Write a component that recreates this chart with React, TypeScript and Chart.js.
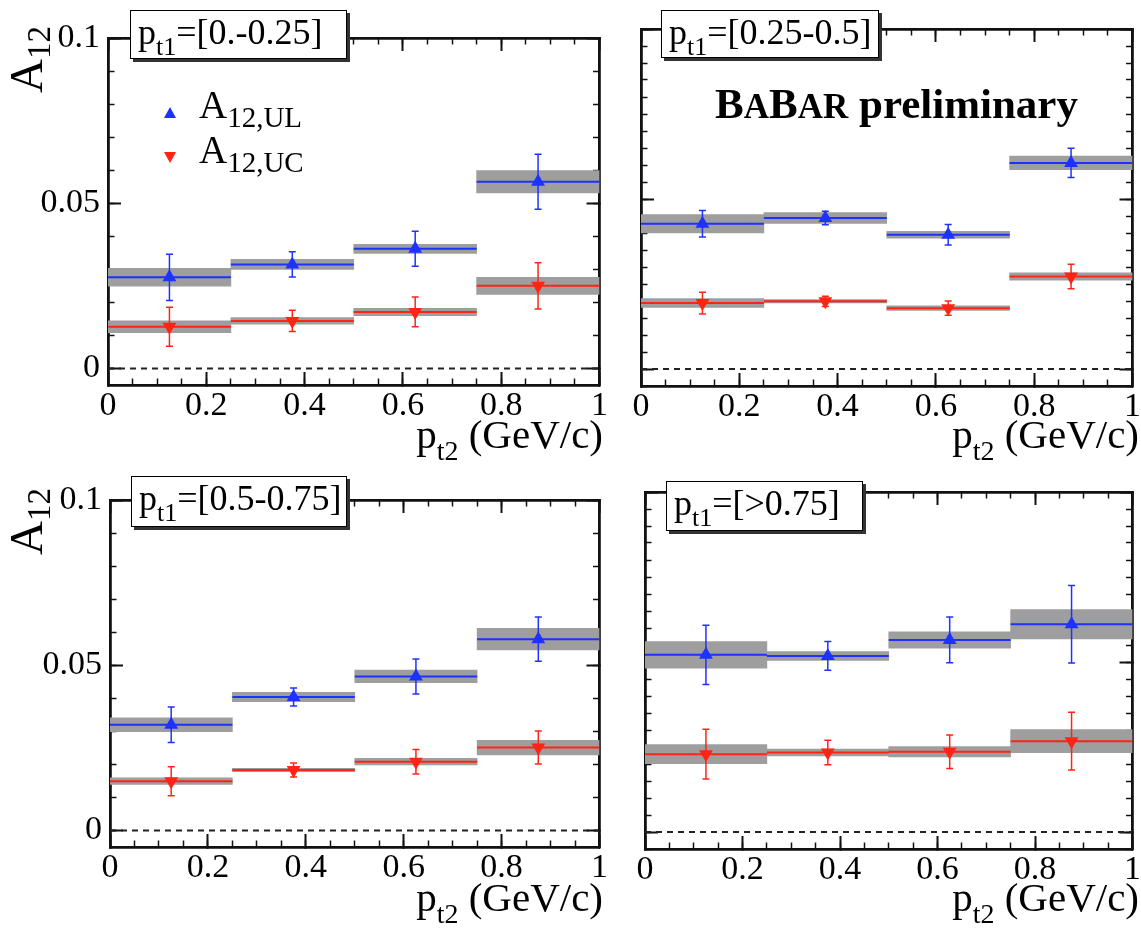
import React, { useEffect, useRef } from "react";
import Chart from "chart.js/auto";

const SERIF = "'Liberation Serif', 'Times New Roman', serif";
const BLUE = "#1e32ff";
const RED = "#ff2414";
const BAND = "#9e9e9e";
const FRAME = "#111111";

// ---- data ----
const binEdges = [0, 0.25, 0.5, 0.75, 1];
const binCenters = [0.125, 0.375, 0.625, 0.875];
const xTickLabels = ["0", "0.2", "0.4", "0.6", "0.8", "1"];
const yTickLabels = ["0", "0.05", "0.1"];
const panelLabels = ["[0.-0.25]", "[0.25-0.5]", "[0.5-0.75]", "[>0.75]"];

// p_t1 = [0 - 0.25]
const ul1 = [0.0276, 0.0315, 0.0362, 0.0565];
const ul1Stat = [0.007, 0.0038, 0.0053, 0.0083];
const ul1Syst = [0.0027, 0.0015, 0.0014, 0.0034];
const uc1 = [0.0126, 0.0144, 0.0171, 0.025];
const uc1Stat = [0.0059, 0.0032, 0.0045, 0.007];
const uc1Syst = [0.0018, 0.001, 0.0011, 0.0026];

// p_t1 = [0.25 - 0.5]
const ul2 = [0.0427, 0.0444, 0.0395, 0.0606];
const ul2Stat = [0.0039, 0.002, 0.003, 0.0043];
const ul2Syst = [0.0027, 0.0016, 0.001, 0.002];
const uc2 = [0.0194, 0.0199, 0.0179, 0.0272];
const uc2Stat = [0.0032, 0.0015, 0.0021, 0.0036];
const uc2Syst = [0.0013, 0.0005, 0.0007, 0.0011];

// p_t1 = [0.5 - 0.75]
const ul3 = [0.032, 0.0404, 0.0466, 0.0579];
const ul3Stat = [0.0054, 0.0027, 0.0053, 0.0067];
const ul3Syst = [0.0021, 0.0014, 0.0019, 0.0033];
const uc3 = [0.0149, 0.0183, 0.0208, 0.0251];
const uc3Stat = [0.0044, 0.0021, 0.0037, 0.005];
const uc3Syst = [0.001, 0.0005, 0.001, 0.0022];

// p_t1 = [> 0.75]
const ul4 = [0.0521, 0.0518, 0.0565, 0.0611];
const ul4Stat = [0.0087, 0.0042, 0.0067, 0.0114];
const ul4Syst = [0.0039, 0.0013, 0.0024, 0.0043];
const uc4 = [0.0229, 0.0234, 0.0236, 0.0267];
const uc4Stat = [0.0073, 0.0036, 0.0049, 0.0085];
const uc4Syst = [0.0028, 0.001, 0.0015, 0.0034];

// ---- layout (page pixels of each plot frame) ----
const panelAreas = [
  { l: 108, t: 29, r: 605, b: 385, yLabels: true, yMinor: 0.01 },
  { l: 641, t: 29, r: 1138, b: 386, yLabels: false, yMinor: 0.005 },
  { l: 110, t: 491, r: 605, b: 847, yLabels: true, yMinor: 0.01 },
  { l: 645, t: 492, r: 1138, b: 849, yLabels: false, yMinor: 0.005 },
];

const LEFT_W = 108;
const TOP_P = 29;
const RIGHT_P = 20;
const BOTTOM_H = 80;

function stepData(vals: number[]) {
  const out: any[] = [];
  vals.forEach((v, i) => {
    out.push({ x: binEdges[i], y: v }, { x: binEdges[i + 1], y: v }, { x: binEdges[i + 1], y: null });
  });
  return out;
}
function errData(vals: number[], errs: number[]) {
  const out: any[] = [];
  vals.forEach((v, i) => {
    out.push({ x: binCenters[i], y: v - errs[i] }, { x: binCenters[i], y: v + errs[i] }, { x: binCenters[i], y: null });
  });
  return out;
}
function bandData(vals: number[], syst: number[]) {
  return vals.map((v, i) => ({ x: binCenters[i], y: [v - syst[i], v + syst[i]] }));
}
function markerData(vals: number[]) {
  return vals.map((v, i) => ({ x: binCenters[i], y: v }));
}

const tickFont = { family: SERIF, size: 34, lineHeight: 1 };

function labelFor(list: string[], v: number) {
  const f = list.find((l) => Math.abs(Number(l) - v) < 1e-9);
  return f === undefined ? "" : f;
}

function Panel(props: any) {
  const { area, ul, ulStat, ulSyst, uc, ucStat, ucSyst } = props;
  const ref = useRef<HTMLCanvasElement>(null);
  const cx = area.l - LEFT_W;
  const cy = area.t - TOP_P;
  const cw = area.r - cx + RIGHT_P;
  const ch = area.b - cy + BOTTOM_H;

  useEffect(() => {
    const xMin = binEdges[0];
    const xMax = binEdges[binEdges.length - 1];
    const binW = binEdges[1] - binEdges[0];
    const yMin = -0.005;
    const yMax = 0.1;
    const lin = (extra: any) => ({ type: "linear", offset: false, ...extra });
    const major = { drawOnChartArea: false, offset: false, tickLength: -13, tickWidth: 2, tickColor: FRAME };
    const minor = { drawOnChartArea: false, offset: false, tickLength: -6.5, tickWidth: 1.5, tickColor: FRAME };
    const border = { display: true, width: 2.8, color: FRAME };
    const noBorder = { display: false };

    const series = (vals: number[], stat: number[], syst: number[], color: string, rot: number) => [
      {
        type: "bar",
        data: bandData(vals, syst),
        xAxisID: "xBin",
        yAxisID: "y",
        backgroundColor: BAND,
        borderWidth: 0,
        grouped: false,
        barPercentage: 1,
        categoryPercentage: 1,
        order: 5,
      },
      {
        type: "line",
        data: stepData(vals),
        xAxisID: "x",
        yAxisID: "y",
        borderColor: color,
        borderWidth: 2,
        pointRadius: 0,
        spanGaps: false,
        order: 3,
      },
      {
        type: "line",
        data: errData(vals, stat),
        xAxisID: "x",
        yAxisID: "y",
        borderColor: color,
        borderWidth: 1.5,
        pointStyle: "line",
        pointRadius: 3.5,
        pointBorderWidth: 1.5,
        pointBorderColor: color,
        spanGaps: false,
        order: 2,
      },
      {
        type: "scatter",
        data: markerData(vals),
        xAxisID: "x",
        yAxisID: "y",
        pointStyle: "triangle",
        pointRadius: 8,
        pointRotation: rot,
        backgroundColor: color,
        borderWidth: 0,
        pointBorderWidth: 0,
        order: 1,
      },
    ];

    const chart = new Chart(ref.current as HTMLCanvasElement, {
      type: "line",
      data: {
        datasets: [
          {
            type: "line",
            data: [
              { x: xMin, y: 0 },
              { x: xMax, y: 0 },
            ],
            xAxisID: "x",
            yAxisID: "y",
            borderColor: "#222",
            borderWidth: 2,
            borderDash: [6, 5],
            pointRadius: 0,
            order: 6,
          },
          ...series(ul, ulStat, ulSyst, BLUE, 0),
          ...series(uc, ucStat, ucSyst, RED, 180),
        ] as any,
      },
      options: {
        responsive: false,
        animation: false,
        events: [],
        layout: { padding: { top: TOP_P, right: RIGHT_P, left: 0, bottom: 0 } },
        plugins: { legend: { display: false }, tooltip: { enabled: false } },
        scales: {
          x: lin({
            position: "bottom",
            weight: 1,
            min: xMin,
            max: xMax,
            ticks: {
              stepSize: 0.2,
              maxTicksLimit: 1000,
              autoSkip: false,
              maxRotation: 0,
              minRotation: 0,
              font: tickFont,
              color: "#000",
              padding: 17,
              callback: (v: any) => labelFor(xTickLabels, Number(v)),
            },
            grid: major,
            border,
            afterFit: (s: any) => {
              s.height = BOTTOM_H;
            },
          }),
          xMinor: lin({
            position: "bottom",
            weight: 0,
            min: xMin,
            max: xMax,
            ticks: { display: false, stepSize: 0.05, maxTicksLimit: 1000 },
            grid: minor,
            border: noBorder,
            afterFit: (s: any) => {
              s.height = 0;
            },
          }),
          xTop: lin({
            position: "top",
            weight: 1,
            min: xMin,
            max: xMax,
            ticks: { display: false, stepSize: 0.2, maxTicksLimit: 1000 },
            grid: major,
            border,
            afterFit: (s: any) => {
              s.height = 0;
            },
          }),
          xTopMinor: lin({
            position: "top",
            weight: 0,
            min: xMin,
            max: xMax,
            ticks: { display: false, stepSize: 0.05, maxTicksLimit: 1000 },
            grid: minor,
            border: noBorder,
            afterFit: (s: any) => {
              s.height = 0;
            },
          }),
          xBin: lin({
            display: false,
            position: "bottom",
            weight: -1,
            min: xMin,
            max: xMax,
            ticks: { display: false, stepSize: binW, maxTicksLimit: 1000 },
            grid: { display: false, offset: false },
            afterFit: (s: any) => {
              s.height = 0;
            },
          }),
          y: lin({
            position: "left",
            weight: 1,
            min: yMin,
            max: yMax,
            ticks: {
              display: area.yLabels,
              stepSize: 0.05,
              maxTicksLimit: 1000,
              includeBounds: false,
              autoSkip: false,
              font: tickFont,
              color: "#000",
              padding: 21,
              callback: (v: any) => labelFor(yTickLabels, Number(v)),
            },
            grid: major,
            border,
            afterFit: (s: any) => {
              s.width = LEFT_W;
            },
          }),
          yMinor: lin({
            position: "left",
            weight: 0,
            min: yMin,
            max: yMax,
            ticks: { display: false, stepSize: area.yMinor, maxTicksLimit: 1000, includeBounds: false },
            grid: minor,
            border: noBorder,
            afterFit: (s: any) => {
              s.width = 0;
            },
          }),
          yRight: lin({
            position: "right",
            weight: 0,
            min: yMin,
            max: yMax,
            ticks: { display: false, stepSize: 0.05, maxTicksLimit: 1000, includeBounds: false },
            grid: major,
            border,
            afterFit: (s: any) => {
              s.width = 0;
            },
          }),
          yRightMinor: lin({
            position: "right",
            weight: 1,
            min: yMin,
            max: yMax,
            ticks: { display: false, stepSize: area.yMinor, maxTicksLimit: 1000, includeBounds: false },
            grid: minor,
            border: noBorder,
            afterFit: (s: any) => {
              s.width = 0;
            },
          }),
        } as any,
      },
    });
    return () => chart.destroy();
  }, []);

  return (
    <canvas
      ref={ref}
      width={cw}
      height={ch}
      style={{ position: "absolute", left: cx, top: cy, width: cw, height: ch }}
    />
  );
}

function Sub(props: { children: any; size: number; drop: number }) {
  return (
    <span style={{ fontSize: props.size, position: "relative", top: props.drop }}>{props.children}</span>
  );
}

function Txt(props: any) {
  const { left, right, base, size, bold, children } = props;
  const style: any = {
    position: "absolute",
    top: base - 0.8375 * size,
    fontSize: size,
    lineHeight: 1,
    whiteSpace: "nowrap",
    fontFamily: SERIF,
    fontWeight: bold ? "bold" : "normal",
    color: "#000",
  };
  if (left !== undefined) style.left = left;
  if (right !== undefined) style.right = right;
  return <div style={style}>{children}</div>;
}

function LabelBox(props: any) {
  const { l, t, w, h, base, text } = props;
  return (
    <>
      <div
        style={{
          position: "absolute",
          left: l,
          top: t,
          width: w,
          height: h,
          boxSizing: "border-box",
          border: "1.5px solid #000",
          background: "#fff",
          boxShadow: "3px 3px 0 #333",
        }}
      />
      <Txt left={l + 8} base={base} size={36}>
        p<Sub size={26} drop={11}>t1</Sub>={text}
      </Txt>
    </>
  );
}

function Tri(props: { cx: number; cy: number; color: string; down?: boolean }) {
  const { cx, cy, color, down } = props;
  const s: any = {
    position: "absolute",
    left: cx - 6,
    top: cy - 5.5,
    width: 0,
    height: 0,
    borderLeft: "6px solid transparent",
    borderRight: "6px solid transparent",
  };
  if (down) s.borderTop = `11px solid ${color}`;
  else s.borderBottom = `11px solid ${color}`;
  return <div style={s} />;
}

function YTitle(props: { x: number; y: number }) {
  return (
    <div
      style={{
        position: "absolute",
        left: props.x,
        top: props.y,
        transform: "rotate(-90deg)",
        transformOrigin: "0 0",
        fontFamily: SERIF,
        fontSize: 47,
        lineHeight: 1,
        whiteSpace: "nowrap",
      }}
    >
      A<Sub size={33} drop={8}>12</Sub>
    </div>
  );
}

function XTitle(props: { right: number; base: number }) {
  return (
    <Txt right={props.right} base={props.base} size={41}>
      p<Sub size={28} drop={12}>t2</Sub> (GeV/c)
    </Txt>
  );
}

export default function App() {
  const sets = [
    [ul1, ul1Stat, ul1Syst, uc1, uc1Stat, uc1Syst],
    [ul2, ul2Stat, ul2Syst, uc2, uc2Stat, uc2Syst],
    [ul3, ul3Stat, ul3Syst, uc3, uc3Stat, uc3Syst],
    [ul4, ul4Stat, ul4Syst, uc4, uc4Stat, uc4Syst],
  ];
  return (
    <div
      style={{
        position: "absolute",
        left: 0,
        top: 0,
        width: 1141,
        height: 932,
        overflow: "hidden",
        background: "#fff",
        fontFamily: SERIF,
      }}
    >
      {panelAreas.map((a, i) => (
        <Panel
          key={i}
          area={a}
          ul={sets[i][0]}
          ulStat={sets[i][1]}
          ulSyst={sets[i][2]}
          uc={sets[i][3]}
          ucStat={sets[i][4]}
          ucSyst={sets[i][5]}
        />
      ))}

      <LabelBox l={130} t={10} w={217} h={49} base={44} text={panelLabels[0]} />
      <LabelBox l={661} t={10} w={218} h={48} base={44} text={panelLabels[1]} />
      <LabelBox l={131} t={476} w={216} h={51} base={510} text={panelLabels[2]} />
      <LabelBox l={666} t={481} w={197} h={50} base={515} text={panelLabels[3]} />

      <Tri cx={170} cy={112} color={BLUE} />
      <Txt left={199} base={118} size={39}>
        A<Sub size={29} drop={9}>12,UL</Sub>
      </Txt>
      <Tri cx={170} cy={157} color={RED} down />
      <Txt left={199} base={163} size={39}>
        A<Sub size={29} drop={9}>12,UC</Sub>
      </Txt>

      <Txt left={715} base={118} size={43} bold>
        B<span style={{ fontSize: 35 }}>A</span>B<span style={{ fontSize: 35 }}>AR</span> preliminary
      </Txt>

      <YTitle x={3} y={93} />
      <YTitle x={3} y={555} />

      <XTitle right={1141 - 603} base={448} />
      <XTitle right={1141 - 1139} base={448} />
      <XTitle right={1141 - 603} base={911} />
      <XTitle right={1141 - 1139} base={911} />
    </div>
  );
}
